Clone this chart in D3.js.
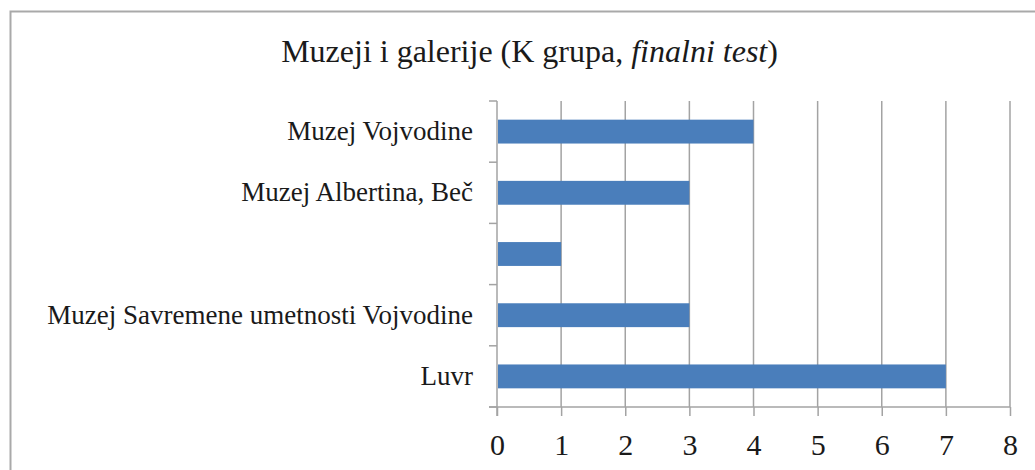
<!DOCTYPE html>
<html>
<head>
<meta charset="utf-8">
<script src="https://cdn.jsdelivr.net/npm/d3@7"></script>
<style>
  html, body { margin: 0; padding: 0; background: #fff; }
  svg { display: block; }
  text { font-family: "Liberation Serif", "Times New Roman", serif; fill: #1a1a1a; }
</style>
</head>
<body>
<svg id="chart" width="1035" height="470"></svg>
<script>
// Data (top to bottom as shown)
const categories = ["Muzej Vojvodine", "Muzej Albertina, Beč", "", "Muzej Savremene umetnosti Vojvodine", "Luvr"];
const values = [4, 3, 1, 3, 7];
const xTicks = [0, 1, 2, 3, 4, 5, 6, 7, 8];
const titleMain = "Muzeji i galerije (K grupa, ";
const titleItalic = "finalni test";
const titleEnd = ")";

(function () {
const svg = d3.select("#chart");
const gridColor = "#a3a3a3";
const serif = '"Liberation Serif", "Times New Roman", serif';

// chart frame (cropped on right and bottom)
svg.append("path")
  .attr("d", "M10.5,470 V11.5 H1035")
  .attr("fill", "none")
  .attr("stroke", "#a9a9a9")
  .attr("stroke-width", 2);

// Title
const title = svg.append("text")
  .attr("x", 529.5)
  .attr("y", 62)
  .attr("text-anchor", "middle")
  .style("font-family", serif)
  .style("font-size", "32px");
title.append("tspan").text(titleMain);
title.append("tspan").style("font-style", "italic").text(titleItalic);
title.append("tspan").text(titleEnd);

const pLeft = 497, pRight = 1010, pTop = 101, pBottom = 407;

const x = d3.scaleLinear().domain([0, 8]).range([pLeft, pRight]);
const idx = categories.map((d, i) => i);
const y = d3.scaleBand().domain(idx).range([pTop, pBottom])
  .paddingInner(0.61).paddingOuter(0.305);

// gridlines
svg.append("g").selectAll("line")
  .data(xTicks.filter(t => t > 0))
  .join("line")
  .attr("x1", d => x(d)).attr("x2", d => x(d))
  .attr("y1", pTop).attr("y2", pBottom)
  .attr("stroke", gridColor).attr("stroke-width", 1.5);

// bars
svg.append("g").selectAll("rect")
  .data(values)
  .join("rect")
  .attr("x", x(0) + 1)
  .attr("y", (d, i) => y(i))
  .attr("width", d => x(d) - x(0) - 1)
  .attr("height", y.bandwidth())
  .attr("fill", "#4a7ebb");

// x axis
const xAxis = svg.append("g")
  .attr("transform", `translate(0,${pBottom})`)
  .call(d3.axisBottom(x).tickValues(xTicks).tickSize(9).tickSizeOuter(0).tickPadding(18));
xAxis.select(".domain").remove();
xAxis.selectAll(".tick line").attr("stroke", gridColor).attr("stroke-width", 1.5);
xAxis.selectAll(".tick text")
  .style("font-family", serif)
  .style("font-size", "30px")
  .attr("fill", "#1a1a1a");
svg.append("line")
  .attr("x1", pLeft - 8).attr("x2", pRight)
  .attr("y1", pBottom).attr("y2", pBottom)
  .attr("stroke", gridColor).attr("stroke-width", 1.5);

// y axis
const yAxis = svg.append("g")
  .attr("transform", `translate(${pLeft},0)`)
  .call(d3.axisLeft(y).tickFormat(i => categories[i]).tickSize(0).tickPadding(24));
yAxis.select(".domain").remove();
yAxis.selectAll(".tick text")
  .style("font-family", serif)
  .style("font-size", "27px")
  .attr("fill", "#1a1a1a");

// category boundary ticks
const bounds = d3.range(categories.length + 1).map(i => pTop + i * y.step());
svg.append("g").selectAll("line")
  .data(bounds)
  .join("line")
  .attr("x1", pLeft - 8).attr("x2", pLeft)
  .attr("y1", d => d).attr("y2", d => d)
  .attr("stroke", gridColor).attr("stroke-width", 1.5);
svg.append("line")
  .attr("x1", pLeft).attr("x2", pLeft)
  .attr("y1", pTop).attr("y2", pBottom + 9)
  .attr("stroke", gridColor).attr("stroke-width", 1.5);
})();
</script>
</body>
</html>
